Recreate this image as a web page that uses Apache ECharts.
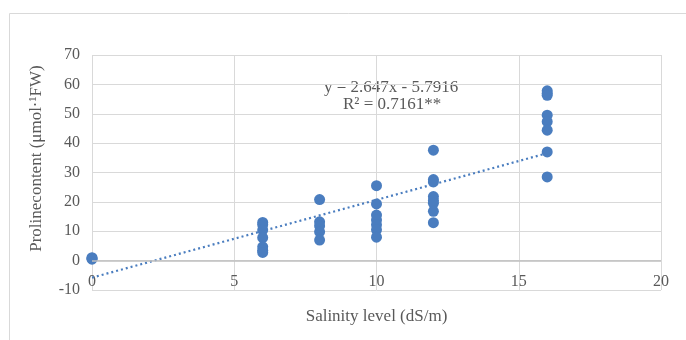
<!DOCTYPE html>
<html>
<head>
<meta charset="UTF-8">
<title>Proline vs salinity</title>
<script src="https://cdn.jsdelivr.net/npm/echarts@6/dist/echarts.min.js"></script>
<style>
  html, body { margin: 0; padding: 0; background: #fff; }
  #main { width: 686px; height: 340px; }
</style>
</head>
<body>
<div id="main"></div>
<script>
// salinity levels (dS/m) and proline readings at each level
var levels = [0, 6, 8, 10, 12, 16];
var proline = [
  [1.0, 0.8, 0.5],
  [13.0, 12.2, 10.4, 7.8, 4.7, 3.5, 2.8],
  [20.8, 13.2, 11.8, 9.8, 7.0],
  [25.5, 19.3, 15.5, 13.8, 12.2, 10.5, 8.0],
  [37.6, 27.6, 26.8, 21.8, 20.5, 19.5, 16.8, 12.9],
  [57.8, 57.0, 56.3, 49.5, 47.3, 44.4, 37.0, 28.5]
];
// linear trendline ends: y = 2.647x - 5.7916
var trendX = [0, 16];
var trendY = [-5.79, 36.56];
var xTicks = [0, 5, 10, 15, 20];
var yTicks = [-10, 0, 10, 20, 30, 40, 50, 60, 70];

var points = [];
for (var i = 0; i < levels.length; i++) {
  for (var j = 0; j < proline[i].length; j++) {
    points.push([levels[i], proline[i][j]]);
  }
}
var trend = [];
for (var k = 0; k < trendX.length; k++) trend.push([trendX[k], trendY[k]]);

var font = '"Liberation Serif", "Times New Roman", serif';
var grey = '#595959';
var blue = '#4a7dbf';

var myChart = echarts.init(document.getElementById('main'));
var option = {
  animation: false,
  textStyle: { fontFamily: font },
  grid: { left: 92, right: 25, top: 55, bottom: 50, outerBoundsMode: 'none', containLabel: false },
  graphic: [
    {
      type: 'rect',
      shape: { x: 9.5, y: 13.5, width: 720, height: 400 },
      style: { fill: 'none', stroke: '#d9d9d9', lineWidth: 1 },
      silent: true
    },
    {
      type: 'text', left: 324, top: 79,
      style: { text: 'y = 2.647x - 5.7916', font: '17px ' + font, fill: grey }
    },
    {
      type: 'text', left: 343, top: 96,
      style: { text: 'R² = 0.7161**', font: '17px ' + font, fill: grey }
    }
  ],
  xAxis: {
    type: 'value',
    min: xTicks[0], max: xTicks[xTicks.length - 1], interval: 5,
    name: 'Salinity level (dS/m)',
    nameLocation: 'middle', nameGap: 18,
    nameTextStyle: { fontFamily: font, fontSize: 17, color: grey },
    axisLine: { onZero: false, show: false },
    axisTick: { show: false },
    // labels sit just under the zero line, as in the spreadsheet chart
    axisLabel: { fontFamily: font, fontSize: 16, color: grey, margin: -16 },
    splitLine: { show: true, lineStyle: { color: '#d9d9d9' } }
  },
  yAxis: {
    type: 'value',
    min: yTicks[0], max: yTicks[yTicks.length - 1], interval: 10,
    name: 'Prolinecontent (μmol·¹FW)',
    nameLocation: 'middle', nameGap: 47,
    nameTextStyle: { fontFamily: font, fontSize: 17, color: grey, padding: [0, 0, 0, 28] },
    axisLine: { show: false },
    axisTick: { show: false },
    axisLabel: { fontFamily: font, fontSize: 16, color: grey, margin: 12 },
    splitLine: { show: true, lineStyle: { color: '#d9d9d9' } }
  },
  series: [
    {
      type: 'line',
      data: trend,
      symbol: 'none',
      lineStyle: { color: blue, width: 2.2, type: [2, 3] },
      z: 3
    },
    {
      type: 'scatter',
      data: points,
      symbolSize: 11,
      itemStyle: { color: blue, opacity: 1 },
      markLine: {
        silent: true,
        symbol: 'none',
        label: { show: false },
        lineStyle: { color: '#bfbfbf', width: 1.5, type: 'solid' },
        data: [{ yAxis: 0 }]
      },
      z: 4
    }
  ]
};
myChart.setOption(option);
</script>
</body>
</html>
